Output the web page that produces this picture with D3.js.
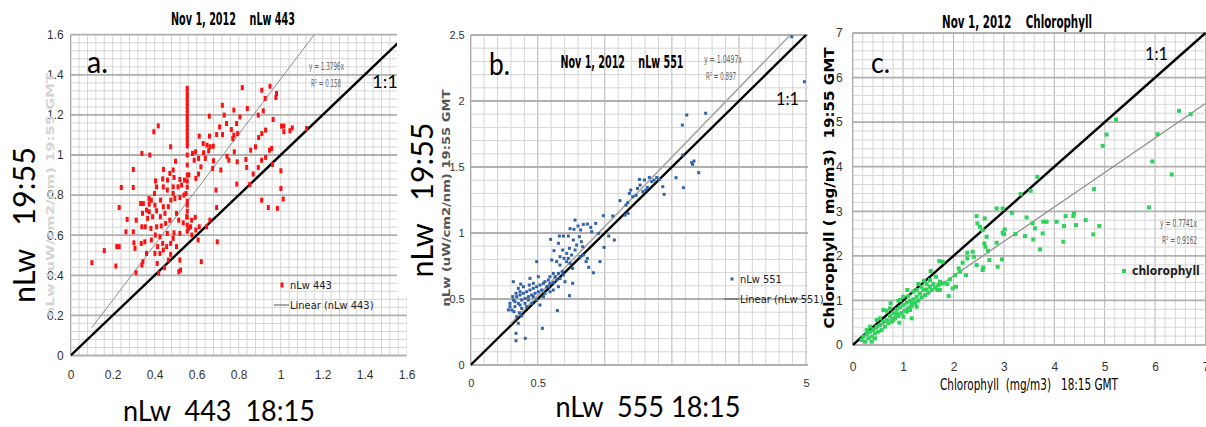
<!DOCTYPE html>
<html>
<head>
<meta charset="utf-8">
<script src="https://cdn.jsdelivr.net/npm/d3@7"></script>
<style>
  body { margin: 0; background: #fff; }
  svg { display: block; }
  text { font-family: "Liberation Sans Narrow", "Arial Narrow", "DejaVu Sans Condensed", sans-serif; white-space: pre; }
</style>
</head>
<body>
<svg id="chart" width="1206" height="427"></svg>
<script>
// ---- panel a : nLw 443, 18:15 vs 19:55 ----
var nlw443 = [
  [0.817,1.336],[0.910,1.323],[0.949,1.343],[0.980,1.307],[0.977,1.287],[0.926,1.282],[0.722,1.248],[0.841,1.232],
  [0.777,1.224],[0.731,1.199],[0.660,1.194],[0.806,1.190],[0.893,1.199],[0.917,1.220],[0.964,1.177],[1.004,1.144],
  [1.015,1.144],[1.044,1.121],[1.055,1.135],[1.123,1.132],[1.015,1.116],[0.928,1.124],[0.417,1.145],[0.396,1.116],
  [0.765,1.127],[0.742,1.157],[0.709,1.140],[0.790,1.157],[0.795,1.107],[0.772,1.082],[0.777,1.099],[0.695,1.102],
  [0.723,1.102],[0.661,1.094],[0.612,1.094],[0.631,1.057],[0.649,1.049],[0.663,1.041],[0.679,1.044],[0.657,1.021],
  [0.595,1.016],[0.633,1.011],[0.476,1.041],[0.339,1.008],[0.377,1.000],[0.499,0.969],[0.442,0.928],[0.488,0.925],
  [0.588,0.974],[0.580,1.008],[0.609,0.983],[0.620,0.941],[0.641,0.983],[0.680,0.971],[0.676,0.933],[0.715,0.925],
  [0.744,0.994],[0.753,0.974],[0.779,1.016],[0.793,0.966],[0.834,0.978],[0.838,0.938],[0.857,1.024],[0.880,1.041],
  [0.895,1.087],[0.910,1.107],[0.947,1.024],[0.957,1.033],[0.909,0.974],[0.928,0.988],[0.961,0.953],[0.893,0.938],
  [0.869,0.905],[0.791,0.855],[0.853,0.853],[1.001,0.921],[1.001,0.833],[1.012,0.780],[0.909,0.775],[0.941,0.738],
  [0.984,0.734],[0.695,0.738],[0.692,0.825],[0.609,0.905],[0.596,0.883],[0.563,0.901],[0.520,0.878],[0.488,0.841],
  [0.460,0.825],[0.441,0.841],[0.409,0.841],[0.399,0.808],[0.373,0.783],[0.298,0.838],[0.241,0.838],[0.298,0.928],
  [0.231,0.738],[0.333,0.758],[0.346,0.758],[0.374,0.755],[0.361,0.725],[0.342,0.709],[0.312,0.675],[0.269,0.679],
  [0.298,0.617],[0.263,0.617],[0.339,0.642],[0.355,0.642],[0.382,0.634],[0.409,0.642],[0.427,0.692],[0.441,0.742],
  [0.449,0.709],[0.465,0.742],[0.477,0.775],[0.488,0.808],[0.496,0.783],[0.511,0.841],[0.528,0.850],[0.542,0.875],
  [0.520,0.788],[0.539,0.800],[0.549,0.808],[0.504,0.709],[0.514,0.675],[0.472,0.675],[0.452,0.659],[0.431,0.646],
  [0.492,0.612],[0.520,0.609],[0.536,0.662],[0.552,0.692],[0.576,0.675],[0.593,0.689],[0.571,0.642],[0.596,0.626],
  [0.577,0.601],[0.612,0.642],[0.647,0.642],[0.663,0.675],[0.607,0.576],[0.698,0.567],[0.403,0.601],[0.425,0.592],
  [0.438,0.559],[0.457,0.543],[0.414,0.543],[0.384,0.576],[0.353,0.567],[0.336,0.559],[0.301,0.562],[0.306,0.534],
  [0.425,0.509],[0.441,0.526],[0.401,0.509],[0.361,0.509],[0.476,0.504],[0.465,0.476],[0.504,0.543],[0.520,0.476],
  [0.515,0.418],[0.523,0.426],[0.447,0.438],[0.419,0.410],[0.412,0.459],[0.344,0.468],[0.339,0.451],[0.311,0.413],
  [0.215,0.446],[0.219,0.543],[0.231,0.543],[0.160,0.523],[0.101,0.463],[0.622,0.468],[0.476,0.559],[0.561,0.634],
  [0.460,0.609],[0.488,0.584],[0.366,0.684],[0.390,0.692],[0.409,0.722],[0.428,0.775],[0.401,0.750],[0.384,0.775],
  [0.374,0.717],[0.461,0.875],[0.472,0.908],[0.492,0.888],[0.438,0.881],[0.404,0.871],
  // the vertical run of repeated 18:15 values near 0.555
  [0.555,1.333],[0.555,1.315],[0.555,1.297],[0.555,1.279],[0.555,1.261],[0.555,1.243],[0.555,1.225],[0.555,1.207],
  [0.555,1.189],[0.555,1.171],[0.555,1.153],[0.555,1.135],[0.555,1.117],[0.555,1.099],[0.555,1.081],[0.555,1.063],
  [0.555,1.045],[0.555,1.000],[0.555,0.950],[0.555,0.900],[0.555,0.870],[0.555,0.840],[0.555,0.770],[0.555,0.750],
  [0.555,0.720],[0.555,0.690],[0.555,0.650],[0.555,0.620]
];
var slope443 = 1.3796;
var r2443 = 0.158;
var trend443 = [0.1, 1.16];
var ticks443 = [0, 0.2, 0.4, 0.6, 0.8, 1, 1.2, 1.4, 1.6];

// ---- panel b : nLw 551 / 555 ----
var nlw551 = [
  [1.581,1.591],[1.648,1.533],[1.665,1.545],[1.655,1.520],[1.700,1.457],[1.531,1.419],[1.586,1.343],[1.442,1.293],
  [1.432,1.351],[1.407,1.406],[1.387,1.421],[1.367,1.401],[1.332,1.421],[1.295,1.401],[1.258,1.406],[1.243,1.338],
  [1.263,1.363],[1.283,1.313],[1.305,1.325],[1.317,1.346],[1.350,1.389],[1.193,1.325],[1.183,1.300],[1.233,1.285],
  [1.208,1.275],[1.171,1.230],[1.158,1.212],[1.113,1.245],[1.151,1.136],[1.173,1.149],[1.059,1.129],[0.989,1.131],
  [0.932,1.073],[0.954,0.997],[1.029,0.977],[1.071,0.947],[0.994,0.891],[0.964,0.783],[0.915,0.699],[0.880,0.740],
  [0.860,0.783],[0.870,0.808],[0.840,0.833],[0.815,0.821],[0.835,0.896],[0.825,0.934],[0.810,0.972],[0.820,1.023],
  [0.870,1.068],[0.895,1.043],[0.902,1.010],[0.840,1.065],[0.800,1.053],[0.778,1.098],[0.741,1.033],[0.770,1.028],
  [0.728,0.977],[0.765,0.947],[0.790,0.909],[0.778,0.871],[0.753,0.833],[0.728,0.808],[0.716,0.783],[0.736,0.884],
  [0.691,0.977],[0.661,0.977],[0.596,0.952],[0.654,0.922],[0.621,0.866],[0.686,0.871],[0.666,0.821],[0.696,0.808],
  [0.716,0.846],[0.741,0.770],[0.760,0.732],[0.492,0.783],[0.604,0.795],[0.641,0.783],[0.666,0.757],[0.683,0.707],
  [0.654,0.694],[0.616,0.694],[0.591,0.669],[0.579,0.644],[0.554,0.631],[0.542,0.619],[0.517,0.606],[0.492,0.593],
  [0.467,0.581],[0.442,0.568],[0.417,0.555],[0.393,0.543],[0.368,0.530],[0.343,0.518],[0.318,0.492],[0.293,0.467],
  [0.306,0.417],[0.330,0.442],[0.355,0.467],[0.380,0.492],[0.405,0.505],[0.430,0.518],[0.455,0.530],[0.480,0.543],
  [0.504,0.555],[0.529,0.568],[0.567,0.593],[0.591,0.619],[0.616,0.624],[0.641,0.644],[0.666,0.656],[0.504,0.669],
  [0.442,0.656],[0.373,0.613],[0.318,0.631],[0.355,0.581],[0.393,0.593],[0.437,0.606],[0.467,0.619],[0.338,0.543],
  [0.368,0.555],[0.313,0.518],[0.281,0.417],[0.323,0.404],[0.363,0.396],[0.380,0.371],[0.343,0.366],[0.355,0.316],
  [0.338,0.240],[0.338,0.184],[0.407,0.202],[0.534,0.278],[0.646,0.412],[0.736,0.525],[0.760,0.619],[0.703,0.631],
  [0.542,0.518],[0.492,0.492],[0.455,0.467],[0.417,0.442],[0.380,0.429],[0.517,0.454],[0.591,0.555],[0.616,0.568],
  [0.554,0.543],[0.467,0.518],[0.430,0.492],[0.405,0.467],[0.368,0.454],[0.293,0.442],[0.330,0.480],[0.654,0.593],
  [0.691,0.682],[0.629,0.669],[0.579,0.593],
  [1.611,1.894],[1.578,1.818],[1.752,1.907],[2.394,2.487],[2.488,2.146]
];
var slope551 = 1.0497;
var r2551 = 0.897;
var trend551 = [0.29, 2.38];
var ticks551 = [0, 0.5, 1, 1.5, 2, 2.5];
var ticks551XLabels = ['0', '0.5', '', '', '', '5'];

// ---- panel c : chlorophyll ----
var chl = [
  [3.332,3.385],[2.856,3.064],[2.975,3.064],[3.160,2.967],[2.459,2.892],[2.618,2.840],[2.473,2.728],[2.525,2.653],
  [2.578,2.578],[2.658,2.429],[2.611,2.279],[2.631,2.204],[2.684,2.115],[2.856,2.294],[2.975,2.518],[3.002,2.488],
  [3.015,2.593],[3.227,2.488],[3.451,2.862],[3.570,2.728],[3.617,2.616],[3.782,2.765],[3.848,2.765],[3.769,2.503],
  [3.716,2.145],[3.584,2.369],[3.418,2.444],[2.962,1.920],[2.876,1.756],[2.711,1.905],[2.592,1.741],[2.578,1.681],
  [2.459,1.793],[2.406,1.980],[2.380,2.092],[2.274,2.070],[2.274,1.943],[2.248,1.569],[2.129,1.644],[2.182,1.846],
  [2.102,1.719],[2.029,1.569],[2.049,1.308],[1.930,1.472],[1.904,1.098],[1.983,1.270],[1.877,1.367],[1.798,1.382],
  [1.732,1.233],[1.679,1.233],[1.732,1.420],[1.785,1.868],[1.719,1.883],[1.547,1.659],[1.652,1.532],[1.600,1.367],
  [1.533,1.308],[1.467,1.248],[1.401,1.233],[1.335,1.158],[1.269,1.083],[1.203,1.024],[1.137,0.994],[1.070,0.949],
  [1.004,0.896],[0.938,0.844],[0.872,0.799],[0.806,0.710],[0.740,0.650],[0.674,0.560],[0.607,0.523],[0.541,0.448],
  [0.475,0.411],[0.409,0.351],[0.343,0.299],[0.277,0.246],[0.211,0.187],[0.177,0.112],[0.244,0.074],[0.310,0.149],
  [0.376,0.187],[0.442,0.261],[0.508,0.299],[0.574,0.336],[0.640,0.411],[0.707,0.485],[0.773,0.523],[0.839,0.598],
  [0.905,0.650],[0.971,0.710],[1.037,0.769],[1.103,0.822],[1.170,0.874],[1.236,0.934],[1.302,0.994],[1.368,1.068],
  [1.434,1.121],[1.500,1.173],[1.566,1.233],[1.633,1.293],[1.699,1.345],[1.765,1.382],[1.533,1.457],[1.467,1.367],
  [1.368,1.308],[1.269,1.233],[1.203,1.195],[1.103,1.098],[1.004,1.083],[0.938,1.009],[1.137,0.784],[1.170,0.598],
  [1.070,0.747],[0.925,0.500],[0.806,0.560],[0.740,0.822],[0.674,0.769],[0.607,0.784],[0.541,0.598],[0.343,0.411],
  [0.277,0.336],[0.475,0.560],[0.753,0.934],[0.905,0.994],[1.084,1.233],[1.302,1.367],[1.414,1.442],[0.872,0.710],
  [1.004,0.635],[1.170,0.934],[1.269,0.859],[0.376,0.074],[0.442,0.149],
  [4.047,2.765],[4.192,2.668],[4.179,2.317],[4.225,2.892],[4.391,2.952],[4.377,2.892],[4.430,2.690],[4.622,2.803],
  [4.774,2.481],[4.893,2.668],[5.879,3.087],[6.474,5.254],[6.706,5.179],[5.224,5.059],[5.039,4.723],[4.960,4.469],
  [6.051,4.730],[5.945,4.118],[6.329,3.826],[4.787,3.497],[3.663,3.774],[3.531,3.460]
];
var slopeChl = 0.7741;
var r2Chl = 0.9162;
var trendChl = [0.15, 7];
var ticksChl = [0, 1, 2, 3, 4, 5, 6, 7];

var svg = d3.select('#chart');

function panel(o) {
  var x = d3.scaleLinear().domain([0, o.max]).range([o.left, o.right]);
  var y = d3.scaleLinear().domain([0, o.max]).range([o.bottom, o.top]);
  var g = svg.append('g');

  svg.append('clipPath').attr('id', 'clip' + o.id)
    .append('rect')
      .attr('x', o.left).attr('y', o.top - 1)
      .attr('width', o.clipRight - o.left).attr('height', o.bottom - o.top + 2);

  var minor = d3.range(0, o.max + 1e-9, o.minor);
  var isMajor = function(v) { return Math.abs(v / o.major - Math.round(v / o.major)) < 1e-6; };

  // vertical grid
  g.selectAll('.vg').data(minor).enter().append('line')
    .attr('x1', d => x(d)).attr('x2', d => x(d))
    .attr('y1', o.top).attr('y2', o.bottom)
    .attr('stroke', d => (o.vMajor && isMajor(d)) ? '#b4b4b4' : '#d6d6d6')
    .attr('stroke-width', 1)
    .attr('clip-path', 'url(#clip' + o.id + ')');

  // horizontal grid
  g.selectAll('.hg').data(minor).enter().append('line')
    .attr('x1', o.left).attr('x2', o.clipRight)
    .attr('y1', d => y(d)).attr('y2', d => y(d))
    .attr('stroke', d => isMajor(d) ? '#b0b0b0' : '#d6d6d6')
    .attr('stroke-width', d => isMajor(d) ? 1.8 : 1);

  // y axis line
  g.append('line')
    .attr('x1', o.left).attr('x2', o.left)
    .attr('y1', o.top).attr('y2', o.bottom)
    .attr('stroke', '#9a9a9a');

  // tick labels
  var xa = g.append('g').attr('transform', 'translate(0,' + o.bottom + ')')
    .call(d3.axisBottom(x).tickValues(o.ticks).tickSize(0).tickPadding(o.xPad)
      .tickFormat((d, i) => o.xLabels ? o.xLabels[i] : d3.format('')(d)));
  var ya = g.append('g').attr('transform', 'translate(' + o.left + ',0)')
    .call(d3.axisLeft(y).tickValues(o.ticks).tickSize(0).tickPadding(o.yPad)
      .tickFormat(d3.format('')));
  [xa, ya].forEach(function(a) {
    a.select('.domain').remove();
    a.selectAll('text')
      .style('font-family', '"Liberation Sans Narrow", "Arial Narrow", sans-serif')
      .style('font-size', o.tickSize + 'px')
      .attr('fill', '#333');
  });

  // 1:1 line
  g.append('line')
    .attr('x1', x(0)).attr('y1', y(0))
    .attr('x2', x(o.max)).attr('y2', y(o.max))
    .attr('stroke', '#000').attr('stroke-width', 2.4)
    .attr('clip-path', 'url(#clip' + o.id + ')');

  // linear trend (through origin)
  g.append('line')
    .attr('x1', x(o.trend[0])).attr('y1', y(o.trend[0] * o.slope))
    .attr('x2', x(o.trend[1])).attr('y2', y(o.trend[1] * o.slope))
    .attr('stroke', o.trendColor).attr('stroke-width', o.trendWidth)
    .attr('clip-path', 'url(#clip' + o.id + ')');

  // points
  g.selectAll('.pt').data(o.data).enter().append('rect')
    .attr('x', d => x(d[0]) - o.mw / 2)
    .attr('y', d => y(d[1]) - o.mh / 2)
    .attr('width', o.mw).attr('height', o.mh)
    .attr('fill', o.color);

  // legend
  g.append('rect')
    .attr('x', o.legend[0] - o.mw / 2).attr('y', o.legend[1] - o.mh / 2)
    .attr('width', o.mw).attr('height', o.mh).attr('fill', o.color);
  g.append('text').attr('x', o.legend[0] + 8).attr('y', o.legend[1] + 4)
    .attr('font-size', o.legendSize).attr('fill', '#222')
    .attr('font-weight', o.legendWeight || 'normal')
    .text(o.name);
  if (o.linear) {
    g.append('line')
      .attr('x1', o.legend[0] - 8).attr('x2', o.legend[0] + 7)
      .attr('y1', o.legend[1] + 20).attr('y2', o.legend[1] + 20)
      .attr('stroke', '#555').attr('stroke-width', 1);
    g.append('text').attr('x', o.legend[0] + 8).attr('y', o.legend[1] + 24)
      .attr('font-size', o.legendSize).attr('fill', '#222')
      .text('Linear (' + o.name + ')');
  }

  // trend equation
  g.append('text').attr('x', o.eq[0]).attr('y', o.eq[1])
    .attr('font-size', 10).attr('fill', '#666')
    .attr('textLength', o.eqLen[0]).attr('lengthAdjust', 'spacingAndGlyphs')
    .text('y = ' + o.slope + 'x');
  g.append('text').attr('x', o.eq[0] + 2).attr('y', o.eq[1] + 17)
    .attr('font-size', 10).attr('fill', '#666')
    .attr('textLength', o.eqLen[1]).attr('lengthAdjust', 'spacingAndGlyphs')
    .text('R\u00b2 = ' + o.r2);

  return g;
}

function label(t) {
  var el = svg.append('text')
    .attr('x', t.x).attr('y', t.y)
    .attr('font-size', t.size)
    .attr('text-anchor', t.anchor || 'start')
    .attr('font-weight', t.weight || 'normal')
    .attr('fill', t.fill || '#000')
    .style('font-family', t.family || null)
    .text(t.text);
  if (t.len) el.attr('textLength', t.len).attr('lengthAdjust', 'spacingAndGlyphs');
  if (t.rotate) el.attr('transform', 'rotate(-90,' + t.x + ',' + t.y + ')');
  return el;
}

var lato = 'Lato, "Open Sans", sans-serif';

// ---------- panel a ----------
panel({
  id: 'a', data: nlw443, max: 1.6, left: 70.7, right: 406.7, clipRight: 406.7, top: 34.7, bottom: 355.5,
  minor: 0.04, major: 0.2, vMajor: false, ticks: ticks443, xPad: 15, yPad: 7, tickSize: 12,
  slope: slope443, r2: r2443, trend: trend443, trendColor: '#8c8c8c', trendWidth: 1,
  color: '#ff1010', mw: 3, mh: 5, name: 'nLw 443', legend: [282, 285], legendSize: 11, linear: true,
  eq: [309, 70], eqLen: [35, 30]
});
label({ text: 'Nov 1, 2012    nLw 443', x: 233, y: 25, size: 17, weight: 'bold', anchor: 'middle', len: 124 });
label({ text: 'a.', x: 87, y: 73, size: 30, family: lato, len: 21 });
label({ text: '1:1', x: 372, y: 88, size: 18, family: lato, len: 26 });
label({ text: 'nLw (uW/cm2/nm) 19:55 GMT', x: 54, y: 195, size: 11, weight: 'bold', anchor: 'middle', rotate: true, fill: '#d4d4d4', len: 244 });
label({ text: 'nLw   19:55', x: 35, y: 225, size: 31, family: lato, anchor: 'middle', rotate: true, len: 156 });
label({ text: 'nLw  443  18:15', x: 219, y: 421, size: 29, family: lato, anchor: 'middle', len: 192 });

// white backing of the middle picture, laid over the right edge of panel a
svg.append('rect').attr('x', 397).attr('y', 0).attr('width', 75).attr('height', 296).attr('fill', '#fff');

// ---------- panel b ----------
panel({
  id: 'b', data: nlw551, max: 2.5, left: 470.7, right: 806, clipRight: 808, top: 35, bottom: 365,
  minor: 0.1, major: 0.5, vMajor: true, ticks: ticks551, xLabels: ticks551XLabels, xPad: 14, yPad: 6, tickSize: 11,
  slope: slope551, r2: r2551, trend: trend551, trendColor: '#a8a8a8', trendWidth: 1.6,
  color: '#2f62a6', mw: 3, mh: 3, name: 'nLw 551', legend: [732, 279], legendSize: 11, linear: true,
  eq: [704, 63], eqLen: [38, 30]
});
label({ text: 'Nov 1, 2012    nLw 551', x: 622, y: 68, size: 17, weight: 'bold', anchor: 'middle', len: 123 });
label({ text: 'b.', x: 489, y: 75, size: 30, family: lato, len: 21 });
label({ text: '1:1', x: 776, y: 105, size: 18, family: lato, len: 23 });
label({ text: 'nLw (uW/cm2/nm) 19:55 GMT', x: 450, y: 198, size: 11, weight: 'bold', anchor: 'middle', rotate: true, fill: '#555', len: 217 });
label({ text: 'nLw   19:55', x: 433, y: 200, size: 31, family: lato, anchor: 'middle', rotate: true, len: 155 });
label({ text: 'nLw  555 18:15', x: 648, y: 417, size: 29, family: lato, anchor: 'middle', len: 185 });

// ---------- panel c ----------
panel({
  id: 'c', data: chl, max: 7, left: 852.7, right: 1205.5, clipRight: 1206, top: 33, bottom: 345,
  minor: 0.2, major: 1, vMajor: true, ticks: ticksChl, xPad: 17, yPad: 10, tickSize: 12,
  slope: slopeChl, r2: r2Chl, trend: trendChl, trendColor: '#8c8c8c', trendWidth: 1.2,
  color: '#2fd35c', mw: 4, mh: 4, name: 'chlorophyll', legend: [1124, 271], legendSize: 12, legendWeight: 'bold', linear: false,
  eq: [1160, 227], eqLen: [37, 35]
});
label({ text: 'Nov 1, 2012    Chlorophyll', x: 1017, y: 28, size: 17, weight: 'bold', anchor: 'middle', len: 150 });
label({ text: 'c.', x: 871, y: 73, size: 28, family: lato, len: 19 });
label({ text: '1:1', x: 1145, y: 60, size: 18, family: lato, len: 23 });
label({ text: 'Chlorophyll ( mg/m3)  19:55 GMT', x: 834, y: 188, size: 14, weight: 'bold', anchor: 'middle', rotate: true, family: '"DejaVu Sans", sans-serif', len: 281 });
label({ text: 'Chlorophyll  (mg/m3)   18:15 GMT', x: 1029, y: 390, size: 16, anchor: 'middle', len: 178 });
</script>
</body>
</html>
